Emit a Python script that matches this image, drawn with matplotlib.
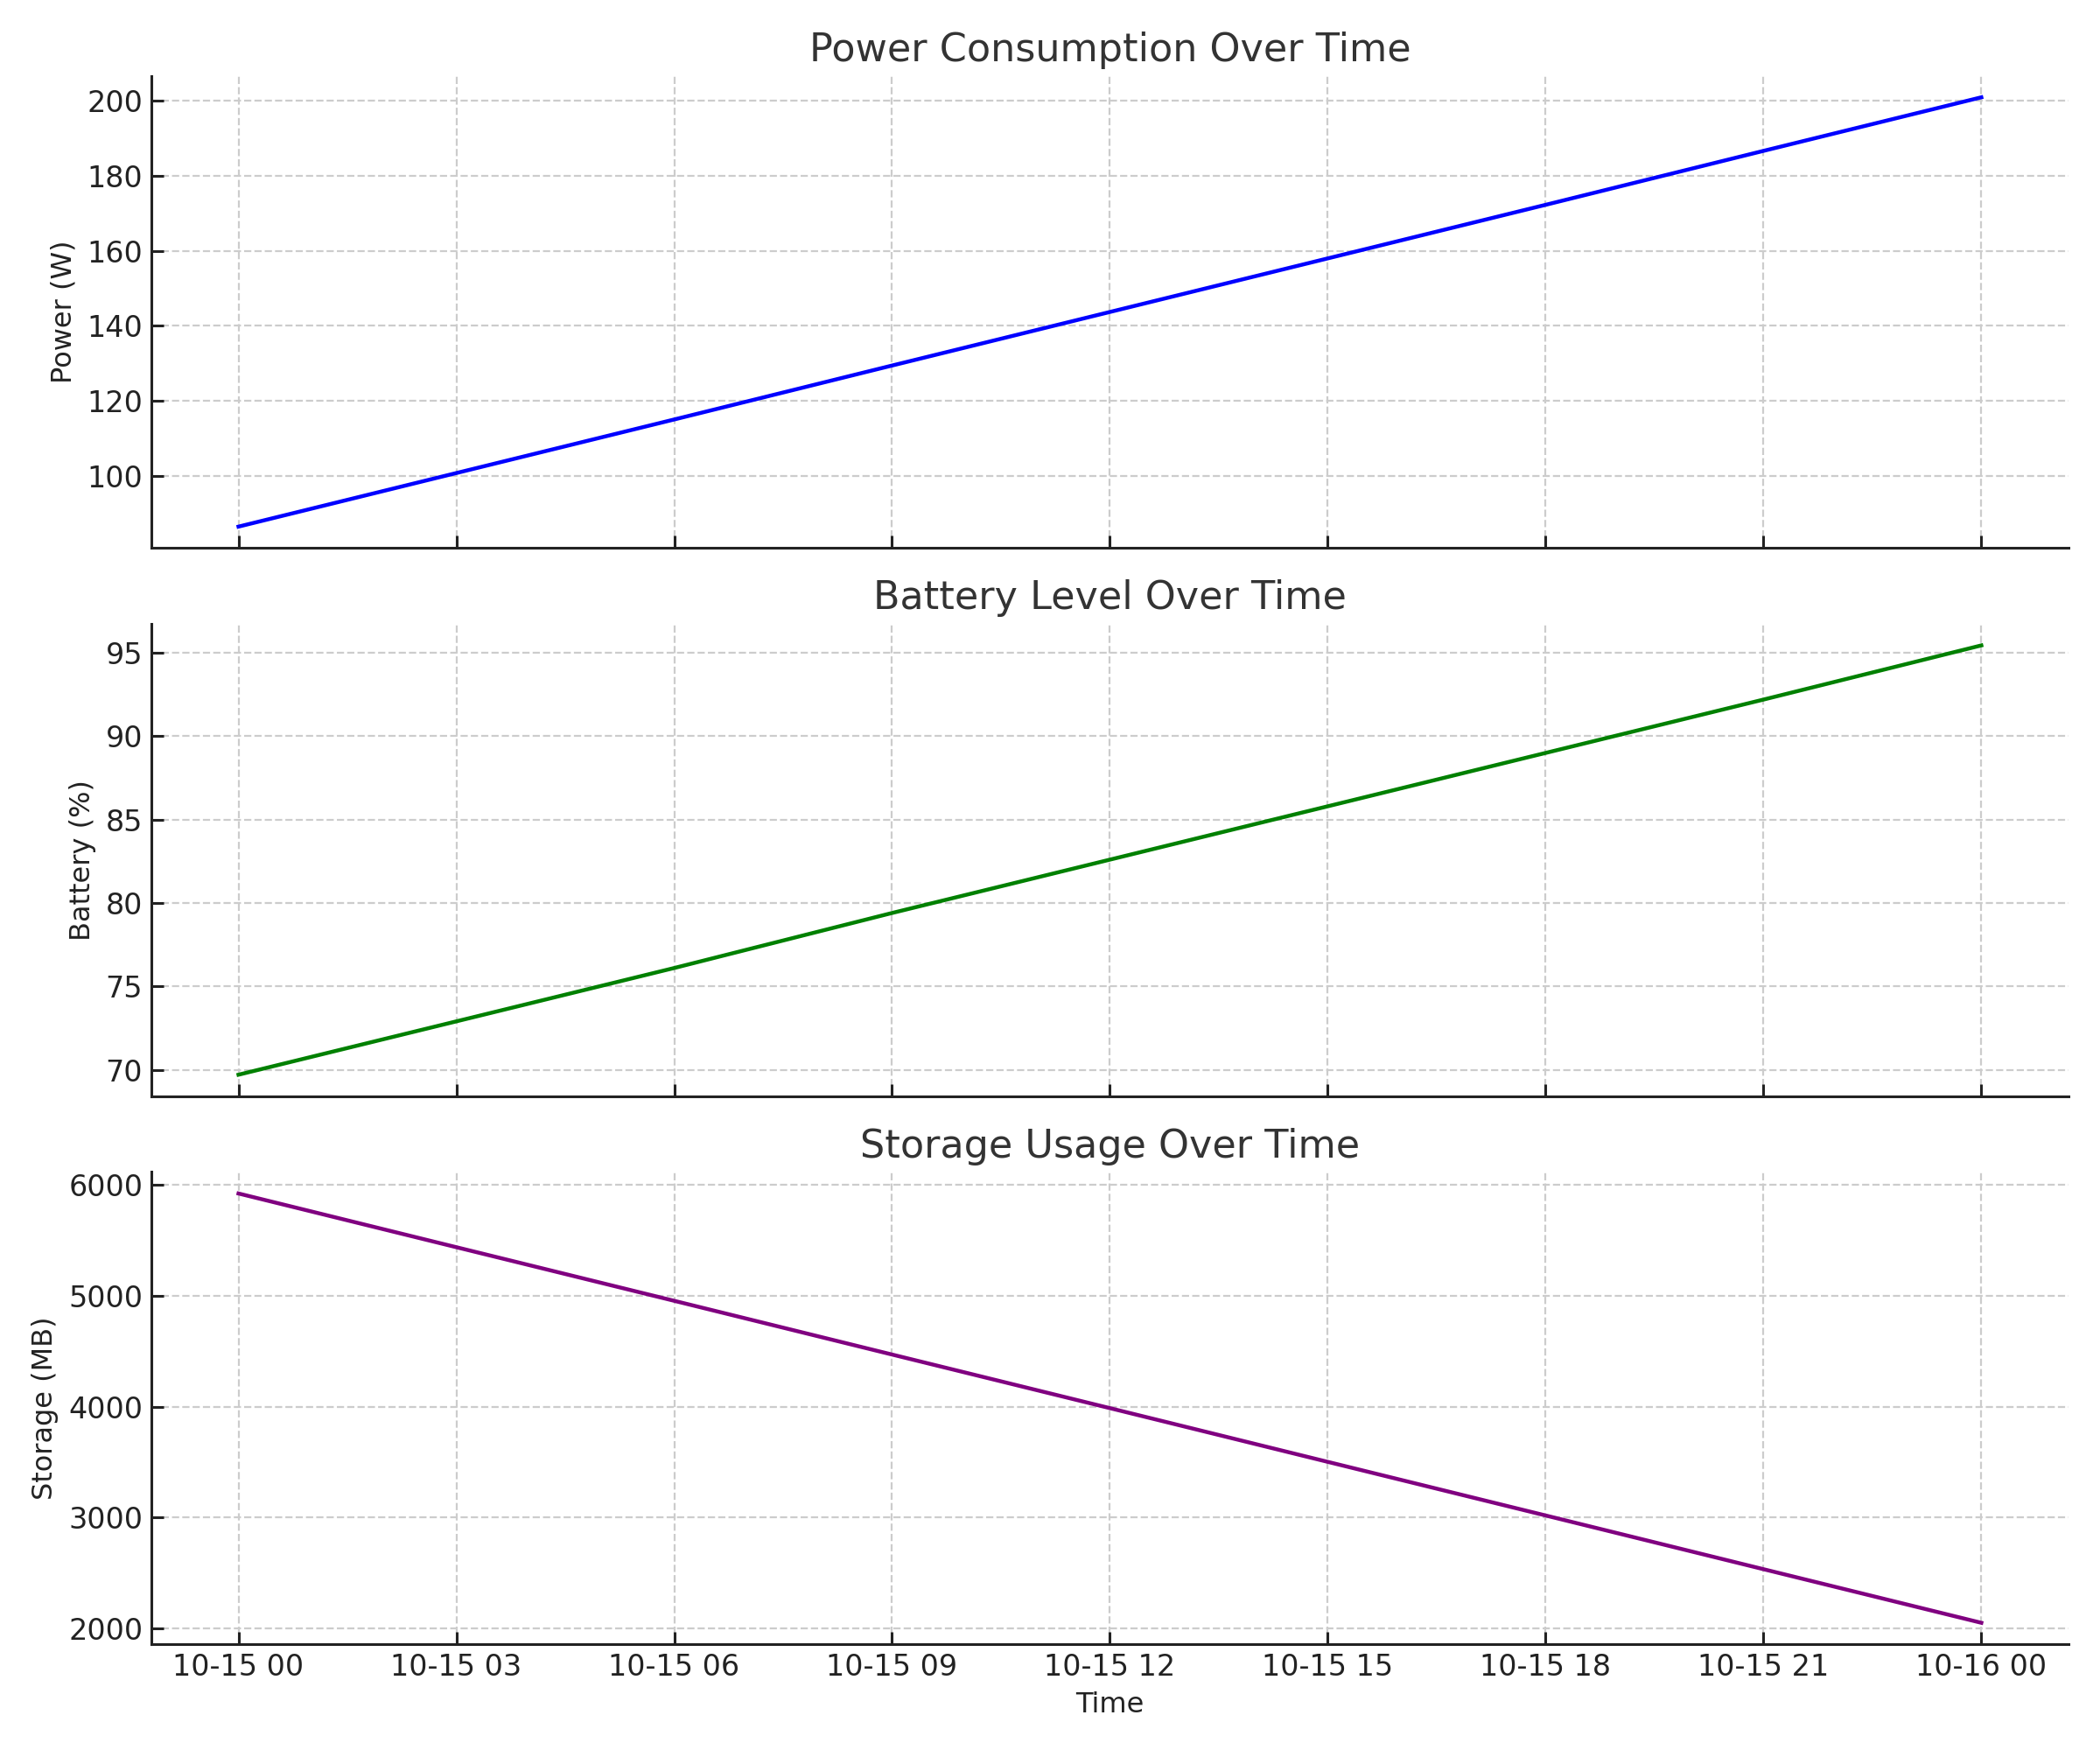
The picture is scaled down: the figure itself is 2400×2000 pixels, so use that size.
import matplotlib
matplotlib.use("Agg")
import matplotlib.pyplot as plt
import matplotlib.dates as mdates
import pandas as pd

# readings every 3 hours, taken off the chart
times = pd.date_range("2023-10-15 00:00", "2023-10-16 00:00", freq="3h")
power = [86.4, 100.7, 115.0, 129.4, 143.7, 158.0, 172.3, 186.7, 201.0]
battery = [69.7, 72.9, 76.1, 79.4, 82.6, 85.8, 89.0, 92.2, 95.45]
storage = [5924, 5439, 4955, 4470, 3986, 3501, 3017, 2532, 2048]

titles = ["Power Consumption Over Time", "Battery Level Over Time", "Storage Usage Over Time"]
ylabels = ["Power (W)", "Battery (%)", "Storage (MB)"]
colors = ["blue", "green", "purple"]

plt.rcParams.update({"font.family": "DejaVu Sans", "font.size": 12,
                     "text.color": "#222222", "axes.labelcolor": "#222222",
                     "xtick.color": "#222222", "ytick.color": "#222222"})

fig, axes = plt.subplots(3, 1, figsize=(12, 10), dpi=200, sharex=True)
for ax, y, t, yl, c in zip(axes, [power, battery, storage], titles, ylabels, colors):
    ax.plot(times, y, color=c, linewidth=1.6)
    ax.set_title(t, fontsize=16, color="#333333")
    ax.set_ylabel(yl, fontsize=11.5)
    ax.grid(True, linestyle="--", color="#cccccc", linewidth=0.8)
    ax.spines["top"].set_visible(False)
    ax.spines["right"].set_visible(False)
    ax.spines["left"].set_color("#222222")
    ax.spines["bottom"].set_color("#222222")
    ax.spines["left"].set_linewidth(1.1)
    ax.spines["bottom"].set_linewidth(1.1)
    ax.tick_params(direction="in", length=5, width=1.1, labelsize=12)

axes[1].set_yticks([70, 75, 80, 85, 90, 95])
axes[2].set_yticks([2000, 3000, 4000, 5000, 6000])
axes[2].xaxis.set_major_locator(mdates.HourLocator(byhour=range(0, 24, 3)))
axes[2].xaxis.set_major_formatter(mdates.DateFormatter("%m-%d %H"))
axes[2].set_xlabel("Time", fontsize=11.5)

plt.tight_layout()
plt.savefig("out.png", dpi=200)
